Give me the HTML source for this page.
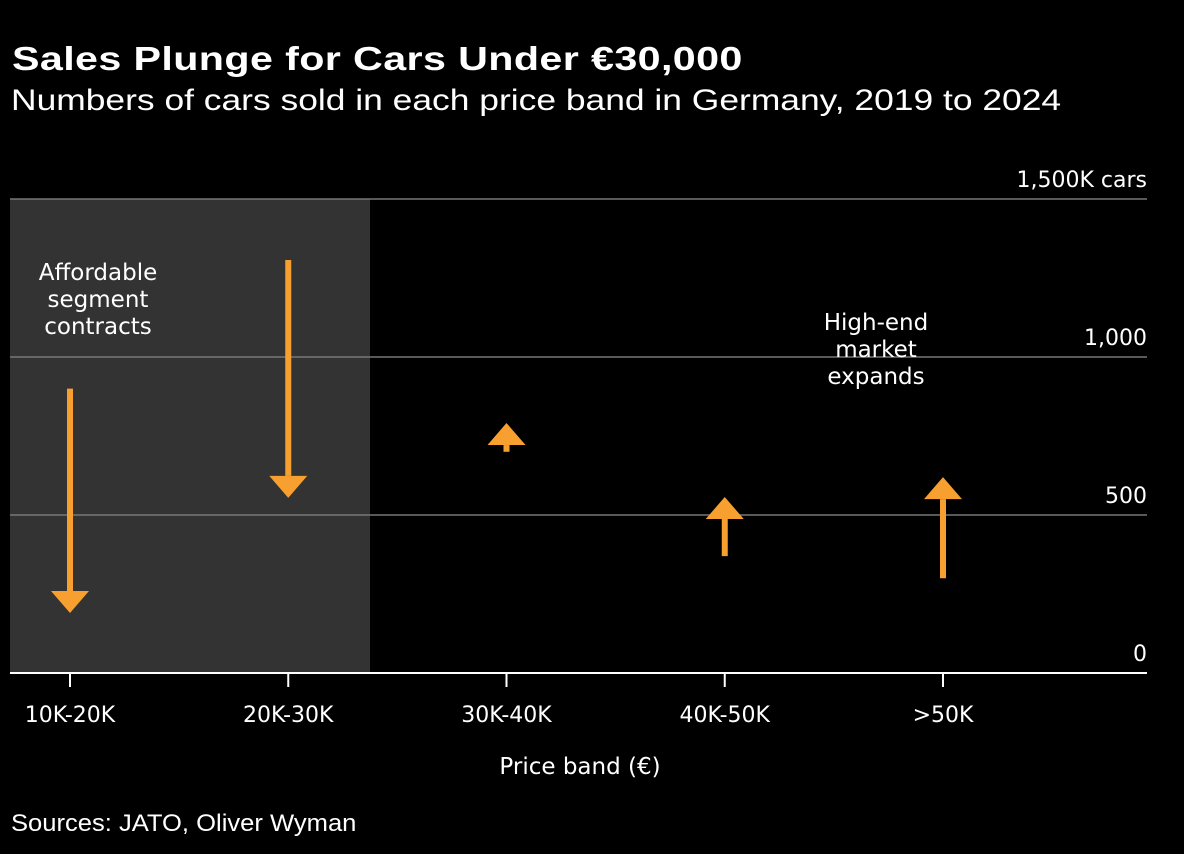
<!DOCTYPE html>
<html><head><meta charset="utf-8"><style>
html,body{margin:0;padding:0;background:#000;}
body{width:1184px;height:854px;overflow:hidden;font-family:"Liberation Sans","DejaVu Sans",sans-serif;color:#fff;position:relative;}
#title{position:absolute;left:12px;top:40px;font-size:33px;font-weight:bold;letter-spacing:0.3px;transform:scaleX(1.25);transform-origin:0 0;white-space:nowrap;}
#subtitle{position:absolute;left:11px;top:84px;font-size:30px;transform:scaleX(1.18);transform-origin:0 0;white-space:nowrap;}
#source{position:absolute;left:11px;top:810px;font-size:24px;transform:scaleX(1.065);transform-origin:0 0;white-space:nowrap;}
svg{position:absolute;left:0;top:0;}
svg text{font-family:"DejaVu Sans","Liberation Sans",sans-serif;}
</style></head><body>
<div id="title">Sales Plunge for Cars Under €30,000</div>
<div id="subtitle">Numbers of cars sold in each price band in Germany, 2019 to 2024</div>
<div id="source">Sources: JATO, Oliver Wyman</div>
<svg id="chart" width="1184" height="854"></svg>
<script>
const categories=["10K-20K","20K-30K","30K-40K","40K-50K",">50K"];
const sales2019=[900,1307,700,370,300];
const sales2024=[190,554,791,557,620];
const yTicks=[0,500,1000,1500];
const yTickLabels=["0","500","1,000","1,500K cars"];
const NS="http://www.w3.org/2000/svg";
const svg=document.getElementById('chart');
const x0=70,xStep=218.25,yBase=673,yScale=0.316;
const xs=i=>x0+i*xStep;
const ys=v=>yBase-v*yScale;
function mk(t,a,p){const e=document.createElementNS(NS,t);for(const k in a)e.setAttribute(k,a[k]);(p||svg).appendChild(e);return e;}
let sh=mk('rect',{x:10,y:ys(1500),width:360,height:ys(0)-ys(1500),fill:'#333'});


yTicks.forEach((v,i)=>{
 if(v>0){let g=mk('line',{x1:10,x2:1147,y1:ys(v),y2:ys(v),stroke:'#777','stroke-width':1.5});
 
 }
 let t=mk('text',{x:1147,y:ys(v)-12,'text-anchor':'end',fill:'#fff','font-size':22});
 t.textContent=yTickLabels[i];
 
 
});
let ax=mk('line',{x1:10,x2:1147,y1:yBase,y2:yBase,stroke:'#fff','stroke-width':2});


categories.forEach((c,i)=>{
 let tk=mk('line',{x1:xs(i),x2:xs(i),y1:yBase,y2:yBase+14,stroke:'#fff','stroke-width':2});
 
 
 let t=mk('text',{x:xs(i),y:722,'text-anchor':'middle',fill:'#fff','font-size':22});
 t.textContent=c;
 
 
 const y1=ys(sales2019[i]),y2=ys(sales2024[i]);
 const dir=y2>y1?1:-1,hh=22,hw=19;
 const g=mk('g',{});
 
 
 mk('line',{x1:xs(i),x2:xs(i),y1:y1,y2:y2-dir*hh,stroke:'#f7a030','stroke-width':6},g);
 mk('polygon',{points:`${xs(i)-hw},${y2-dir*hh} ${xs(i)+hw},${y2-dir*hh} ${xs(i)},${y2}`,fill:'#f7a030'},g);
});
let xt=mk('text',{x:580,y:774,'text-anchor':'middle',fill:'#fff','font-size':23});
xt.textContent='Price band (€)';


function ann(lines,x,y,name){let t=mk('text',{x:x,y:y,'text-anchor':'middle',fill:'#fff','font-size':23});
 lines.forEach((l,i)=>{let s=mk('tspan',{x:x,dy:i?27:0},t);s.textContent=l;});
 
 }
ann(["Affordable","segment","contracts"],98,280,'annotation-affordable');
ann(["High-end","market","expands"],876,330,'annotation-high-end');
</script>
</body></html>
